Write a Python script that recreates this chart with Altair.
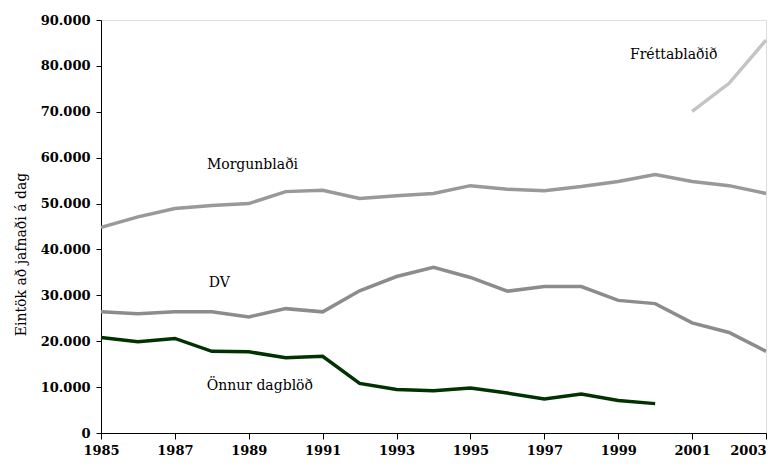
import altair as alt
import pandas as pd

years = list(range(1985, 2004))
morgun = [44800, 47100, 48900, 49600, 50000, 52600, 52900, 51100, 51700, 52200,
          53900, 53100, 52800, 53700, 54800, 56300, 54800, 53900, 52200]
dv = [26400, 26000, 26400, 26400, 25300, 27100, 26400, 31000, 34100, 36100,
      33900, 30900, 31900, 31900, 28900, 28200, 24000, 21900, 17800]
onnur = [20800, 19900, 20600, 17800, 17700, 16400, 16700, 10800, 9500, 9200,
         9800, 8700, 7400, 8500, 7100, 6400]
frett_years = [2001, 2002, 2003]
frett = [70100, 76200, 85600]

series_names = ["Morgunblaði", "DV", "Önnur dagblöð", "Fréttablaðið"]
series_colors = ["#999999", "#8c8c8c", "#003300", "#c4c4c4"]

label_text = ["Morgunblaði", "DV", "Önnur dagblöð", "Fréttablaðið"]
label_year = [1989.1, 1988.2, 1989.3, 2000.5]
label_value = [58500, 32750, 10260, 82300]

rows = []
for y, v in zip(years, morgun):
    rows.append({"year": y, "value": v, "series": "Morgunblaði"})
for y, v in zip(years, dv):
    rows.append({"year": y, "value": v, "series": "DV"})
for y, v in zip(years[:len(onnur)], onnur):
    rows.append({"year": y, "value": v, "series": "Önnur dagblöð"})
for y, v in zip(frett_years, frett):
    rows.append({"year": y, "value": v, "series": "Fréttablaðið"})
df = pd.DataFrame(rows)
labels = pd.DataFrame({"text": label_text, "year": label_year, "value": label_value})

FONT = "DejaVu Serif"

x = alt.X("year:Q", scale=alt.Scale(domain=[1985, 2003], nice=False, zero=False),
          axis=alt.Axis(values=years, labelExpr="datum.value % 2 == 1 ? datum.value : ''",
                        title=None, grid=False, tickSize=6, labelPadding=5,
                        labelAlign=alt.expr("datum.value == 2003 ? 'right' : 'center'"),
                        labelFont=FONT, labelFontSize=13, labelFontWeight="bold",
                        labelColor="#000", domainColor="#000", tickColor="#000",
                        labelFlush=False, labelOverlap=False))
y = alt.Y("value:Q", scale=alt.Scale(domain=[0, 90000], nice=False),
          axis=alt.Axis(values=list(range(0, 90001, 10000)),
                        labelExpr="replace(format(datum.value, ','), ',', '.')",
                        title="Eintök að jafnaði á dag", titleFont=FONT, titleFontSize=14,
                        titleFontWeight="normal", titleColor="#000",
                        titleX=-73, titleY=234, titleAngle=-90,
                        grid=False, tickSize=5, labelPadding=6,
                        labelFont=FONT, labelFontSize=13, labelFontWeight="bold",
                        labelColor="#000", domainColor="#000", tickColor="#000"))

lines = alt.Chart(df).mark_line(strokeWidth=3.5).encode(
    x=x, y=y,
    color=alt.Color("series:N", scale=alt.Scale(domain=series_names, range=series_colors), legend=None),
    detail="series:N",
)

text = alt.Chart(labels).mark_text(font=FONT, fontSize=14, color="#000").encode(
    x=alt.X("year:Q"), y=alt.Y("value:Q"), text="text:N"
)

chart = (lines + text).properties(
    width=665, height=413,
    autosize=alt.AutoSizeParams(type="none"),
    padding={"left": 93, "top": 12, "right": 10, "bottom": 29},
).configure_view(stroke=None).configure(background="white")

chart.save("out.html", embed_options={"renderer": "svg", "actions": False})
